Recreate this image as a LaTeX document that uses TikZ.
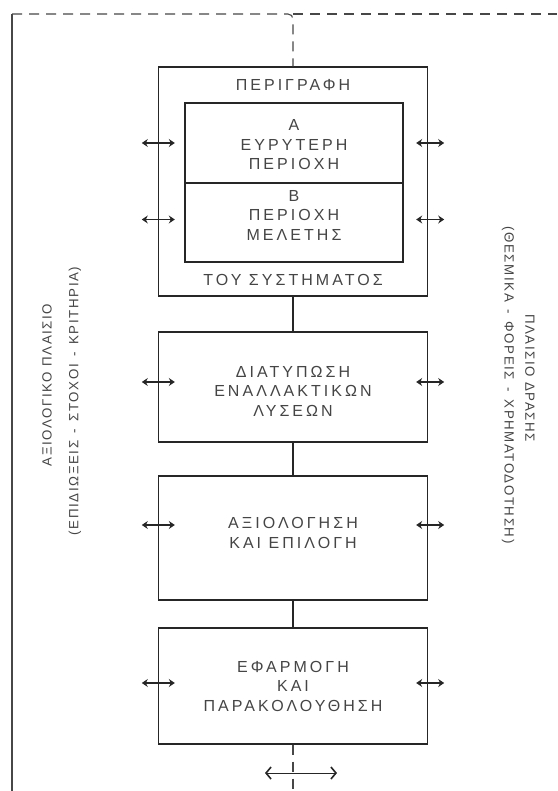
\documentclass[tikz,border=0pt]{standalone}
\usepackage{fontspec}
\setmainfont{Liberation Sans}
\newfontfamily\boxfont[LetterSpace=19]{Liberation Sans}
\newfontfamily\sidefont[LetterSpace=12]{Liberation Sans}
\usetikzlibrary{arrows.meta,calc}
\definecolor{ink}{HTML}{262626}
\definecolor{txt}{HTML}{454545}
\begin{document}
\begin{tikzpicture}[x=1pt,y=-1pt,
  blk/.style={draw=ink, line width=1.4pt, minimum width=269pt, inner sep=0pt},
  lbl/.style={text=txt, font=\boxfont\fontsize{16}{19.5}\selectfont, align=center, inner sep=0pt},
  side/.style={text=txt, font=\sidefont\fontsize{13.3}{15}\selectfont, inner sep=0pt},
  link/.style={draw=ink, line width=1.4pt},
  frame/.style={draw=ink!85, line width=1.1pt},
  dashline/.style={draw=ink!85, line width=1.1pt, dash pattern=on 10pt off 7pt},
  flow/.style={draw=ink, line width=1.1pt, {Stealth[length=6pt,width=8pt]}-{Stealth[length=6pt,width=8pt]}},
  loop/.style={draw=ink, line width=1pt, {Straight Barb[length=5pt,width=12pt,line width=1.6pt]}-{Straight Barb[length=5pt,width=12pt,line width=1.6pt]}},
]
\useasboundingbox (0,0) rectangle (557,791);
\fill[white] (0,0) rectangle (557,791);

% outer frame: solid left edge, dashed top edge
\coordinate (corner) at (12,14);
\coordinate (base) at (12,791);
\coordinate (bend) at (293,14);
\coordinate (topright) at (557,14);
\draw[frame] (base) -- (corner);

% system description block with its two inner regions
\node[blk, minimum height=229pt] (sys) at (293,181.5) {};
\node[lbl] (sysa) at (293,85) {ΠΕΡΙΓΡΑΦΗ};
\node[lbl] (sysb) at (293,280) {ΤΟΥ ΣΥΣΤΗΜΑΤΟΣ};
\node[blk, minimum width=218pt, minimum height=80pt] (wide) at (294,143) {};
\node[lbl] (widet) at (294,145) {Α\\ΕΥΡΥΤΕΡΗ\\ΠΕΡΙΟΧΗ};
\node[blk, minimum width=218pt, minimum height=79pt] (study) at (294,222.5) {};
\node[lbl] (studyt) at (294,215) {Β\\ΠΕΡΙΟΧΗ\\ΜΕΛΕΤΗΣ};

% process steps
\node[blk, minimum height=110pt] (alt) at (293,387) {};
\node[lbl] (altt) at (293,391) {ΔΙΑΤΥΠΩΣΗ\\ΕΝΑΛΛΑΚΤΙΚΩΝ\\ΛΥΣΕΩΝ};
\node[blk, minimum height=124pt] (eval) at (293,538) {};
\node[lbl] (evalt) at (293,533) {ΑΞΙΟΛΟΓΗΣΗ\\ΚΑΙ ΕΠΙΛΟΓΗ};
\node[blk, minimum height=116pt] (impl) at (293,686) {};
\node[lbl] (implt) at (293,686) {ΕΦΑΡΜΟΓΗ\\ΚΑΙ\\ΠΑΡΑΚΟΛΟΥΘΗΣΗ};

% vertical links
\draw[dashline, rounded corners=5pt] (corner) -- (bend) -- (sys.north);
\draw[dashline] (bend) -- (topright);
\draw[link] (sys.south) -- (alt.north);
\draw[link] (alt.south) -- (eval.north);
\draw[link] (eval.south) -- (impl.north);
\coordinate (foot) at (293,791);
\draw[dashline] (impl.south) -- (foot);
\coordinate (fl) at (265,773);
\coordinate (fr) at (337,773);
\draw[loop] (fl) -- (fr);

% exchanges with the two surrounding frameworks
\foreach \n/\dy in {wide/0, study/-3, alt/-5, eval/-13, impl/-3}{
  \draw[flow] ($(sys.west|-\n)+(-16,\dy)$) -- ($(sys.west|-\n)+(17,\dy)$);
  \draw[flow] ($(sys.east|-\n)+(-12,\dy)$) -- ($(sys.east|-\n)+(16,\dy)$);
}

% side labels
\node[side, rotate=90] (values) at (47,385) {ΑΞΙΟΛΟΓΙΚΟ ΠΛΑΙΣΙΟ};
\node[side, rotate=90] (valuesub) at (75,401) {(ΕΠΙΔΙΩΞΕΙΣ \,-\, ΣΤΟΧΟΙ \,-\, ΚΡΙΤΗΡΙΑ)};
\node[side, rotate=-90] (action) at (530,378) {ΠΛΑΙΣΙΟ ΔΡΑΣΗΣ};
\node[side, rotate=-90] (actionsub) at (508,385) {(ΘΕΣΜΙΚΑ \,-\, ΦΟΡΕΙΣ \,-\, ΧΡΗΜΑΤΟΔΟΤΗΣΗ)};
\end{tikzpicture}
\end{document}
